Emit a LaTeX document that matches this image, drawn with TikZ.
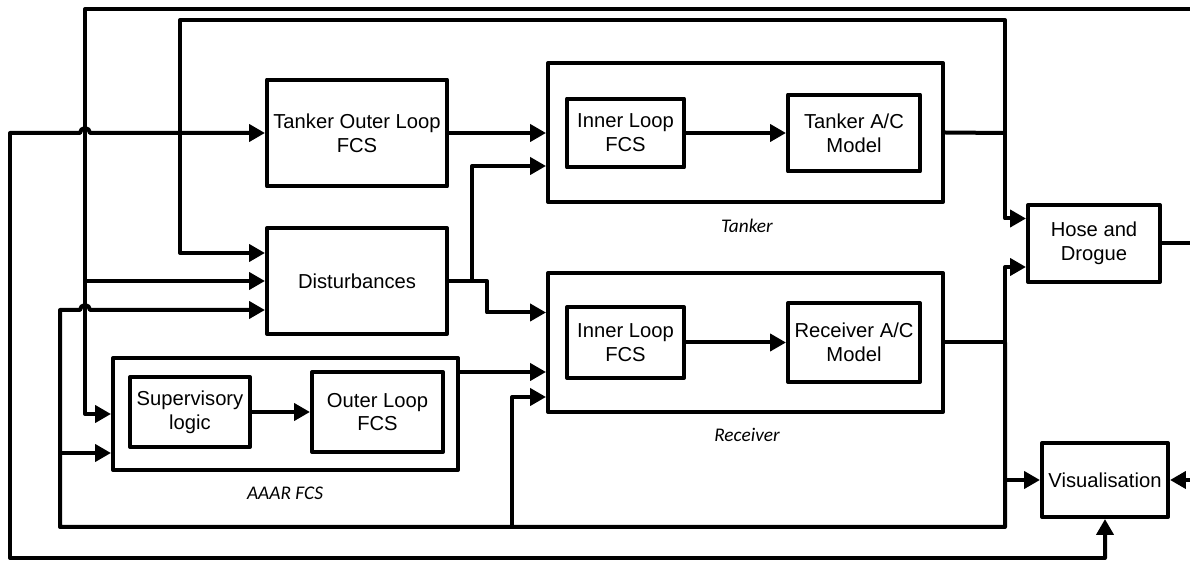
\documentclass[tikz,border=0pt]{standalone}
\usepackage{fontspec}
\setmainfont{Liberation Sans}
\newfontfamily\grpfont{Carlito}
\usepackage{tikz}
\usetikzlibrary{arrows.meta}
\usetikzlibrary{calc}
\tikzset{blk/.style = {draw, line width = 0.08cm, line join = round, inner sep = 0,
                       align = center, font = \fontsize{11.5}{13.6}\selectfont}}
\tikzset{grp/.style = {draw, line width = 0.08cm, line join = round, inner sep = 0}}
\tikzset{grplabel/.style = {font = \grpfont\itshape\fontsize{11}{13}\selectfont}}
\tikzset{wire/.style = {line width = 0.08cm, line join = round}}
\tikzset{arr/.style = {wire, -{Triangle[length = 0.32cm, width = 0.34cm]}}}
\tikzset{dbl/.style = {wire, {Triangle[length = 0.32cm, width = 0.34cm]}-{Triangle[length = 0.32cm, width = 0.34cm]}}}

\begin{document}
\begin{tikzpicture}[x = 0.02cm, y = -0.02cm]
    \useasboundingbox (0, 0) rectangle (1190, 563);

    \node [grp, minimum width = 7.9cm, minimum height = 2.78cm] (tanker) at (745.5, 132.5) {};
    \node [blk, minimum width = 2.34cm, minimum height = 1.38cm] (tilfcs) at (625.5, 133) {Inner Loop\\FCS};
    \node [blk, minimum width = 2.64cm, minimum height = 1.54cm] (tacm) at (854, 133) {Tanker A/C\\Model};
    \node [grplabel] (tlbl) at (747, 226) {Tanker};

    \node [grp, minimum width = 7.9cm, minimum height = 2.78cm] (receiver) at (745.5, 342.5) {};
    \node [blk, minimum width = 2.34cm, minimum height = 1.42cm] (rilfcs) at (625.5, 342.5) {Inner Loop\\FCS};
    \node [blk, minimum width = 2.64cm, minimum height = 1.58cm] (racm) at (854, 342.5) {Receiver A/C\\Model};
    \node [grplabel] (rlbl) at (747, 435) {Receiver};

    \node [grp, minimum width = 6.9cm, minimum height = 2.24cm] (aaar) at (285.5, 414) {};
    \node [blk, minimum width = 2.4cm, minimum height = 1.4cm] (sup) at (190, 412) {Supervisory\\logic};
    \node [blk, minimum width = 2.62cm, minimum height = 1.6cm] (olfcs) at (377.5, 412) {Outer Loop\\FCS};
    \node [grplabel] (albl) at (285, 493) {AAAR FCS};

    \node [blk, minimum width = 3.6cm, minimum height = 2.14cm] (tofcs) at (357, 133) {Tanker Outer Loop\\FCS};
    \node [blk, minimum width = 3.6cm, minimum height = 2.12cm] (dist) at (357, 281) {Disturbances};
    \node [blk, minimum width = 2.64cm, minimum height = 1.54cm] (hose) at (1094, 243.5) {Hose and\\Drogue};
    \node [blk, minimum width = 2.52cm, minimum height = 1.48cm] (vis) at (1105, 480) {Visualisation};

    \coordinate (e1) at (1190, 9);
    \coordinate (e2) at (1190, 243.5);
    \coordinate (e3) at (1190, 480);
    \coordinate (busA) at (85, 9);
    \coordinate (busB) at (180, 20);
    \coordinate (tout) at (1005, 133);
    \coordinate (rout) at (1005, 342.5);
    \coordinate (busC) at (1005, 527);
    \coordinate (busD) at (60, 527);
    \coordinate (busE) at (10, 558);
    \coordinate (rb) at (512, 527);
    \coordinate (d1) at ($(dist.west) + (0, -28)$);
    \coordinate (d3) at ($(dist.west) + (0, 29)$);
    \coordinate (t2) at ($(tanker.west) + (0, 33.5)$);
    \coordinate (r1) at ($(receiver.west) + (0, -30)$);
    \coordinate (r2) at ($(receiver.west) + (0, 29.5)$);
    \coordinate (r3) at ($(receiver.west) + (0, 54.5)$);
    \coordinate (a2) at ($(aaar.west) + (0, 39)$);
    \coordinate (h1) at ($(hose.west) + (0, -25)$);
    \coordinate (h2) at ($(hose.west) + (0, 23.5)$);

    \draw [arr] (tilfcs) -- (tacm);
    \draw [arr] (rilfcs) -- (racm);
    \draw [arr] (sup) -- (olfcs);
    \draw [arr] (tofcs.east) -- (tofcs.east -| tanker.west);
    \draw [arr] (dist.east) -- ++(38, 0) |- (r1);
    \draw [arr] ($(dist.east) + (23, 0)$) |- (t2);
    \draw [arr] (r2 -| aaar.east) -- (r2);

    \draw [arr] (e1) -- (busA) |- (aaar.west);
    \draw [arr] (busA |- dist.west) -- (dist.west);
    \draw [wire] (tanker.east) -- (tout);
    \draw [arr] (tout) |- (h1);
    \draw [arr] (tout) |- (busB) |- (d1);
    \draw [wire] (receiver.east) -- (rout);
    \draw [arr] (rout) |- (h2);
    \draw [arr] (rout) |- (vis.west);
    \draw [arr] (rout) -- (busC) -- (busD) -- (busD |- d3) -- ++(20, 0)
        arc [start angle = 180, end angle = 360, radius = 5] -- (d3);
    \draw [arr] (busD |- a2) -- (a2);
    \draw [arr] (rb) |- (r3);
    \draw [dbl] (vis.south) |- (busE) -- (busE |- tofcs.west) -- ++(70, 0)
        arc [start angle = 180, end angle = 360, radius = 5] -- (tofcs.west);
    \draw [wire] (hose.east) -- (e2);
    \draw [arr] (e3) -- (vis.east);
\end{tikzpicture}
\end{document}
